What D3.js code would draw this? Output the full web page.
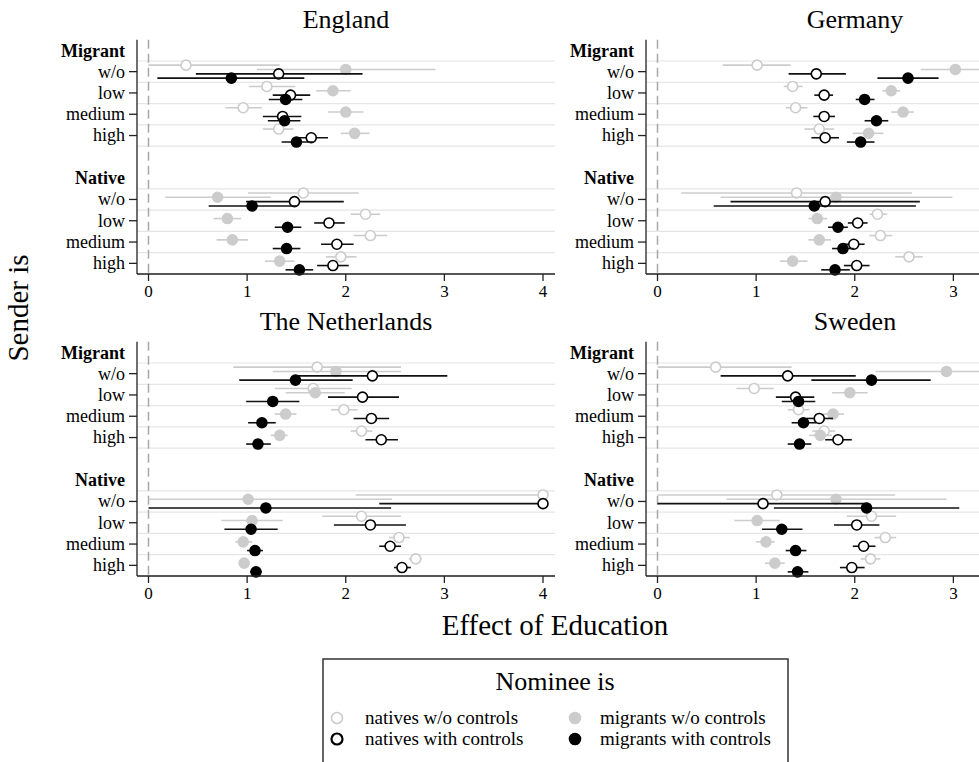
<!DOCTYPE html>
<html>
<head>
<meta charset="utf-8">
<script src="https://cdn.jsdelivr.net/npm/d3@7"></script>
<style>
  html, body { margin: 0; padding: 0; background: #fff; }
  svg { display: block; font-family: "Liberation Serif", "DejaVu Serif", serif; }
</style>
</head>
<body>
<svg id="chart" width="979" height="762"></svg>
<script>
// Panels, groups, rows and series
const countries = ["England", "Germany", "The Netherlands", "Sweden"];
const senderGroups = ["Migrant", "Native"];
const educationLevels = ["w/o", "low", "medium", "high"];
const seriesNames = ["natives w/o controls", "migrants w/o controls",
                     "natives with controls", "migrants with controls"];
const xTicks = [0, 1, 2, 3, 4];

// Estimates as [estimate, lower, upper], one row per education level,
// four series per row in the order of seriesNames.
const englandMigrant = [
  [[0.38, 0.00, 1.33], [2.00, 1.10, 2.91], [1.32, 0.48, 2.17], [0.84, 0.09, 1.58]],
  [[1.20, 1.02, 1.49], [1.87, 1.70, 2.05], [1.44, 1.26, 1.64], [1.39, 1.22, 1.56]],
  [[0.96, 0.78, 1.15], [2.00, 1.82, 2.18], [1.36, 1.16, 1.55], [1.38, 1.21, 1.54]],
  [[1.32, 1.16, 1.47], [2.09, 1.95, 2.24], [1.65, 1.49, 1.82], [1.50, 1.35, 1.67]]
];
const englandNative = [
  [[1.57, 1.01, 2.13], [0.70, 0.17, 1.24], [1.48, 0.99, 1.98], [1.05, 0.61, 1.50]],
  [[2.20, 2.05, 2.35], [0.80, 0.66, 0.94], [1.83, 1.68, 1.99], [1.41, 1.28, 1.55]],
  [[2.25, 2.08, 2.42], [0.85, 0.69, 1.01], [1.91, 1.75, 2.08], [1.40, 1.26, 1.54]],
  [[1.95, 1.80, 2.11], [1.33, 1.18, 1.48], [1.87, 1.71, 2.03], [1.53, 1.39, 1.67]]
];
const germanyMigrant = [
  [[1.01, 0.66, 1.35], [3.02, 2.67, 3.37], [1.61, 1.33, 1.91], [2.54, 2.23, 2.85]],
  [[1.37, 1.28, 1.47], [2.37, 2.28, 2.46], [1.69, 1.59, 1.78], [2.10, 2.01, 2.20]],
  [[1.40, 1.30, 1.52], [2.49, 2.37, 2.60], [1.69, 1.58, 1.80], [2.22, 2.10, 2.34]],
  [[1.64, 1.49, 1.79], [2.14, 1.98, 2.29], [1.70, 1.56, 1.84], [2.06, 1.92, 2.20]]
];
const germanyNative = [
  [[1.41, 0.24, 2.58], [1.81, 0.64, 2.99], [1.70, 0.74, 2.66], [1.59, 0.57, 2.62]],
  [[2.23, 2.15, 2.33], [1.62, 1.53, 1.72], [2.03, 1.93, 2.13], [1.83, 1.73, 1.93]],
  [[2.26, 2.15, 2.38], [1.64, 1.53, 1.76], [1.99, 1.88, 2.10], [1.88, 1.77, 1.99]],
  [[2.55, 2.41, 2.69], [1.37, 1.24, 1.52], [2.02, 1.89, 2.15], [1.80, 1.66, 1.95]]
];
const netherlandsMigrant = [
  [[1.71, 0.86, 2.56], [1.90, 1.26, 2.56], [2.27, 1.50, 3.03], [1.49, 0.92, 2.07]],
  [[1.67, 1.28, 2.06], [1.69, 1.39, 1.99], [2.17, 1.82, 2.54], [1.26, 0.99, 1.53]],
  [[1.98, 1.85, 2.12], [1.39, 1.28, 1.50], [2.26, 2.08, 2.44], [1.15, 1.01, 1.29]],
  [[2.16, 2.05, 2.27], [1.33, 1.24, 1.41], [2.36, 2.20, 2.53], [1.11, 0.99, 1.24]]
];
const netherlandsNative = [
  [[4.00, 2.10, 4.00], [1.01, 0.00, 2.47], [4.00, 2.34, 4.00], [1.19, 0.00, 2.46]],
  [[2.16, 1.76, 2.56], [1.05, 0.74, 1.36], [2.25, 1.88, 2.61], [1.04, 0.77, 1.31]],
  [[2.54, 2.44, 2.65], [0.96, 0.88, 1.05], [2.45, 2.34, 2.56], [1.08, 1.00, 1.16]],
  [[2.71, 2.64, 2.77], [0.97, 0.93, 1.01], [2.57, 2.49, 2.66], [1.09, 1.03, 1.15]]
];
const swedenMigrant = [
  [[0.59, 0.00, 1.36], [2.93, 2.21, 3.60], [1.32, 0.64, 2.01], [2.17, 1.56, 2.77]],
  [[0.98, 0.80, 1.18], [1.95, 1.77, 2.13], [1.40, 1.20, 1.59], [1.43, 1.26, 1.60]],
  [[1.43, 1.32, 1.54], [1.78, 1.68, 1.89], [1.64, 1.51, 1.78], [1.48, 1.36, 1.61]],
  [[1.69, 1.57, 1.80], [1.65, 1.54, 1.77], [1.83, 1.70, 1.97], [1.44, 1.32, 1.56]]
];
const swedenNative = [
  [[1.21, 0.00, 2.41], [1.81, 0.70, 2.93], [1.07, 0.00, 2.14], [2.12, 1.18, 3.06]],
  [[2.17, 1.92, 2.42], [1.01, 0.78, 1.24], [2.02, 1.79, 2.25], [1.26, 1.06, 1.47]],
  [[2.31, 2.20, 2.42], [1.10, 1.00, 1.19], [2.09, 1.98, 2.21], [1.40, 1.30, 1.51]],
  [[2.16, 2.06, 2.26], [1.19, 1.09, 1.29], [1.97, 1.85, 2.10], [1.42, 1.32, 1.53]]
];

const panelData = [
  [englandMigrant, englandNative],
  [germanyMigrant, germanyNative],
  [netherlandsMigrant, netherlandsNative],
  [swedenMigrant, swedenNative]
];

// Marker styling per series
const lightGray = "#cccccc";
const seriesStyle = [
  { stroke: lightGray, fill: "#ffffff", line: lightGray },
  { stroke: lightGray, fill: lightGray,  line: lightGray },
  { stroke: "#000000", fill: "#ffffff", line: "#111111" },
  { stroke: "#000000", fill: "#000000", line: "#111111" }
];
const seriesOffset = [-6.5, -2.2, 2.2, 6.5];

const svg = d3.select("#chart");
const svgWidth = +svg.attr("width");

// Geometry of one panel
const panelW = 418;
const panelLeft = [137, 646];
const panelTop = [39.7, 341.7];
const panelH = 234.3;

// Row keys: a header row per sender group, four education rows, and a spacer
const rowKeys = [];
senderGroups.forEach((g, gi) => {
  rowKeys.push(g + "|header");
  educationLevels.forEach(e => rowKeys.push(g + "|" + e));
  if (gi < senderGroups.length - 1) rowKeys.push("spacer");
});

countries.forEach((country, ci) => {
  const col = ci % 2, row = Math.floor(ci / 2);
  const L = panelLeft[col], T = panelTop[row];
  const g = svg.append("g");

  const x = d3.scaleLinear().domain([0, 4]).range([L + 11.5, L + 406]);
  const y = d3.scaleBand().domain(rowKeys).range([T, T + panelH]);
  const bottom = T + panelH;

  // Horizontal guide lines at the edges of each education row
  senderGroups.forEach(grp => {
    const edges = [];
    educationLevels.forEach(e => {
      edges.push(y(grp + "|" + e));
    });
    edges.push(y(grp + "|" + educationLevels[educationLevels.length - 1]) + y.bandwidth());
    g.selectAll(null).data(edges).join("line")
      .attr("x1", L).attr("x2", L + panelW)
      .attr("y1", d => d).attr("y2", d => d)
      .attr("stroke", "#e6e6e6").attr("stroke-width", 1.2);
  });

  // Reference line at zero
  g.append("line")
    .attr("x1", x(0)).attr("x2", x(0))
    .attr("y1", T).attr("y2", bottom)
    .attr("stroke", "#a8a8a8").attr("stroke-width", 1.5)
    .attr("stroke-dasharray", "9,5");

  // Confidence intervals and point estimates
  senderGroups.forEach((grp, gi) => {
    const rows = panelData[ci][gi];
    seriesNames.forEach((s, si) => {
      const pts = educationLevels.map((e, ei) => ({
        y: y(grp + "|" + e) + y.bandwidth() / 2 + seriesOffset[si],
        est: rows[ei][si][0], lo: rows[ei][si][1], hi: rows[ei][si][2]
      }));
      g.selectAll(null).data(pts).join("line")
        .attr("x1", d => x(d.lo)).attr("x2", d => x(d.hi))
        .attr("y1", d => d.y).attr("y2", d => d.y)
        .attr("stroke", seriesStyle[si].line).attr("stroke-width", 1.6);
      g.selectAll(null).data(pts).join("circle")
        .attr("cx", d => x(d.est)).attr("cy", d => d.y)
        .attr("r", 5)
        .attr("fill", seriesStyle[si].fill)
        .attr("stroke", seriesStyle[si].stroke)
        .attr("stroke-width", 1.6);
    });
  });

  // Y axis: line, ticks and labels
  g.append("line")
    .attr("x1", L).attr("x2", L).attr("y1", T).attr("y2", bottom)
    .attr("stroke", "#222").attr("stroke-width", 1.3);
  senderGroups.forEach(grp => {
    g.append("text")
      .attr("x", L - 12).attr("y", y(grp + "|header") + y.bandwidth() / 2)
      .attr("dy", "0.35em").attr("text-anchor", "end")
      .attr("font-size", 18).attr("font-weight", "bold")
      .text(grp);
    educationLevels.forEach(e => {
      const yy = y(grp + "|" + e) + y.bandwidth() / 2;
      g.append("line").attr("x1", L - 8).attr("x2", L)
        .attr("y1", yy).attr("y2", yy)
        .attr("stroke", "#222").attr("stroke-width", 1.3);
      g.append("text")
        .attr("x", L - 12).attr("y", yy).attr("dy", "0.33em")
        .attr("text-anchor", "end").attr("font-size", 18)
        .text(e);
    });
  });

  // X axis (ticks that fall past the drawing edge are left out)
  const visibleTicks = xTicks.filter(t => x(t) + 6 < svgWidth);
  g.append("line")
    .attr("x1", L).attr("x2", L + panelW).attr("y1", bottom).attr("y2", bottom)
    .attr("stroke", "#222").attr("stroke-width", 1.3);
  g.selectAll(null).data(visibleTicks).join("line")
    .attr("x1", d => x(d)).attr("x2", d => x(d))
    .attr("y1", bottom).attr("y2", bottom + 7)
    .attr("stroke", "#222").attr("stroke-width", 1.3);
  g.selectAll(null).data(visibleTicks).join("text")
    .attr("x", d => x(d)).attr("y", bottom + 23)
    .attr("text-anchor", "middle").attr("font-size", 17)
    .text(d => d);

  // Panel title
  g.append("text")
    .attr("x", L + panelW / 2).attr("y", T - 11.7)
    .attr("text-anchor", "middle").attr("font-size", 26)
    .text(country);
});

// Shared axis titles
svg.append("text")
  .attr("x", 555).attr("y", 635)
  .attr("text-anchor", "middle").attr("font-size", 29)
  .text("Effect of Education");
svg.append("text")
  .attr("transform", "translate(28,308) rotate(-90)")
  .attr("text-anchor", "middle").attr("font-size", 29)
  .text("Sender is");

// Legend
const legend = svg.append("g");
legend.append("rect")
  .attr("x", 323).attr("y", 659).attr("width", 465).attr("height", 120)
  .attr("fill", "#fff").attr("stroke", "#333").attr("stroke-width", 1.5);
legend.append("text")
  .attr("x", 555).attr("y", 690)
  .attr("text-anchor", "middle").attr("font-size", 26)
  .text("Nominee is");
const legendPos = [
  { cx: 337, tx: 365, cy: 718 },
  { cx: 575, tx: 600, cy: 718 },
  { cx: 337, tx: 365, cy: 739 },
  { cx: 575, tx: 600, cy: 739 }
];
seriesNames.forEach((s, si) => {
  const p = legendPos[si];
  legend.append("circle")
    .attr("cx", p.cx).attr("cy", p.cy).attr("r", 5.5)
    .attr("fill", seriesStyle[si].fill)
    .attr("stroke", seriesStyle[si].stroke)
    .attr("stroke-width", si === 2 ? 2.2 : 1.6);
  legend.append("text")
    .attr("x", p.tx).attr("y", p.cy).attr("dy", "0.33em")
    .attr("font-size", 19)
    .text(s);
});
</script>
</body>
</html>
